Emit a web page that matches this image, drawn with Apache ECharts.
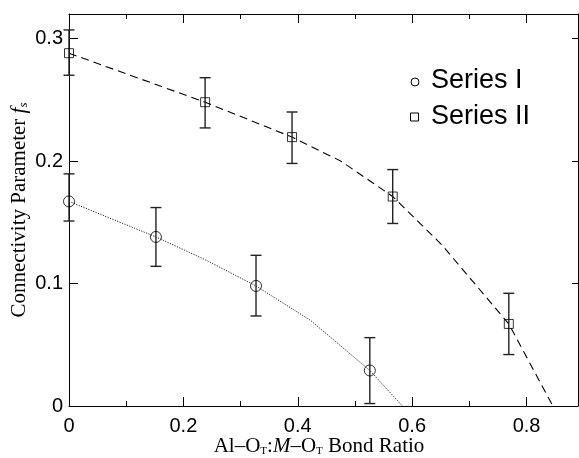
<!DOCTYPE html>
<html>
<head>
<meta charset="utf-8">
<script src="https://cdn.jsdelivr.net/npm/echarts@6/dist/echarts.min.js"></script>
<style>
html,body{margin:0;padding:0;background:#fff;}
#chart{width:579px;height:458px;}
</style>
</head>
<body>
<div id="chart"></div>
<script>
// Series I (circles)
const xI = [0, 0.152, 0.327, 0.526];
const yI = [0.167, 0.138, 0.098, 0.029];
const loI = [0.151, 0.114, 0.0735, 0.002];
const hiI = [0.1895, 0.162, 0.123, 0.0558];
// Series II (squares)
const xII = [0, 0.238, 0.390, 0.566, 0.769];
const yII = [0.288, 0.248, 0.2195, 0.171, 0.067];
const loII = [0.270, 0.227, 0.198, 0.149, 0.042];
const hiII = [0.307, 0.268, 0.240, 0.193, 0.092];
// Fitted curves
const fitIx = [0, 0.152, 0.24, 0.327, 0.422, 0.526, 0.583];
const fitIy = [0.167, 0.138, 0.119, 0.098, 0.070, 0.029, 0];
const fitIIx = [0, 0.238, 0.390, 0.475, 0.566, 0.652, 0.769, 0.846];
const fitIIy = [0.288, 0.248, 0.2195, 0.200, 0.171, 0.1315, 0.067, 0];
// Axis ticks
const xTicks = [0, 0.2, 0.4, 0.6, 0.8];
const yTicks = [0, 0.1, 0.2, 0.3];
const seriesNames = ['Series I', 'Series II'];

const chart = echarts.init(document.getElementById('chart'), null, {renderer: 'canvas'});
const zip = (a, b) => a.map((v, i) => [v, b[i]]);
const errData = (x, lo, hi) => x.map((v, i) => [v, lo[i], hi[i]]);

function errRender(params, api) {
  const x = api.value(0), lo = api.value(1), hi = api.value(2);
  const a = api.coord([x, lo]), b = api.coord([x, hi]);
  const hw = 5.5;
  const st = {stroke: '#222', lineWidth: 1.4};
  return {
    type: 'group',
    children: [
      {type: 'line', shape: {x1: a[0], y1: a[1], x2: b[0], y2: b[1]}, style: st},
      {type: 'line', shape: {x1: a[0] - hw, y1: a[1], x2: a[0] + hw, y2: a[1]}, style: st},
      {type: 'line', shape: {x1: b[0] - hw, y1: b[1], x2: b[0] + hw, y2: b[1]}, style: st}
    ]
  };
}

const labelFont = {fontFamily: 'Liberation Sans', fontSize: 20, color: '#000'};
const axisLine = {show: true, onZero: false, lineStyle: {color: '#000', width: 1}};
const fmt = v => {
  if (Math.abs(v) < 1e-9) return '0';
  return String(Math.round(v * 10) / 10);
};

const option = {
  animation: false,
  backgroundColor: '#fff',
  grid: {left: 69, right: 1, top: 14, bottom: 52, containLabel: false},
  xAxis: [
    {
      type: 'value', position: 'bottom', min: 0, max: 0.89, interval: 0.2,
      axisLine: axisLine,
      axisTick: {show: true, inside: true, length: 9, lineStyle: {color: '#000'}},
      minorTick: {show: true, splitNumber: 2, length: 5, lineStyle: {color: '#000'}},
      axisLabel: Object.assign({margin: 10, showMaxLabel: false,
        formatter: v => xTicks.some(t => Math.abs(t - v) < 1e-6) ? fmt(v) : ''}, labelFont),
      splitLine: {show: false}
    },
    {
      type: 'value', position: 'top', min: 0, max: 0.89, interval: 0.2,
      axisLine: axisLine,
      axisTick: {show: true, inside: true, length: 9, lineStyle: {color: '#000'}},
      minorTick: {show: true, splitNumber: 2, length: 5, lineStyle: {color: '#000'}},
      axisLabel: {show: false},
      splitLine: {show: false}
    }
  ],
  yAxis: [
    {
      type: 'value', position: 'left', min: 0, max: 0.32, interval: 0.1,
      axisLine: axisLine,
      axisTick: {show: true, inside: true, length: 9, lineStyle: {color: '#000'}},
      axisLabel: Object.assign({margin: 6, showMaxLabel: false,
        formatter: v => yTicks.some(t => Math.abs(t - v) < 1e-6) ? fmt(v) : ''}, labelFont),
      splitLine: {show: false}
    },
    {
      type: 'value', position: 'right', min: 0, max: 0.32, interval: 0.1,
      axisLine: axisLine,
      axisTick: {show: true, inside: true, length: 6, lineStyle: {color: '#000'}},
      axisLabel: {show: false},
      splitLine: {show: false}
    }
  ],
  series: [
    {
      name: 'fitI', type: 'line', data: zip(fitIx, fitIy), showSymbol: false, symbol: 'none',
      lineStyle: {color: '#222', width: 1, type: [1.2, 1.4]}, silent: true, z: 2
    },
    {
      name: 'fitII', type: 'line', data: zip(fitIIx, fitIIy), showSymbol: false, symbol: 'none',
      lineStyle: {color: '#000', width: 1.1, type: [8, 5]}, silent: true, z: 2
    },
    {
      name: 'errI', type: 'custom', data: errData(xI, loI, hiI), renderItem: errRender,
      encode: {x: 0, y: [1, 2]}, z: 3
    },
    {
      name: 'errII', type: 'custom', data: errData(xII, loII, hiII), renderItem: errRender,
      encode: {x: 0, y: [1, 2]}, z: 3
    },
    {
      name: seriesNames[0], type: 'scatter', data: zip(xI, yI), symbol: 'circle', symbolSize: 11,
      itemStyle: {color: 'rgba(255,255,255,0)', borderColor: '#000', borderWidth: 1}, z: 4
    },
    {
      name: seriesNames[1], type: 'scatter', data: zip(xII, yII), symbol: 'rect', symbolSize: 9,
      itemStyle: {color: 'rgba(255,255,255,0)', borderColor: '#000', borderWidth: 1}, z: 4
    }
  ],
  graphic: [
    {type: 'circle', shape: {cx: 415, cy: 82, r: 4}, style: {fill: '#fff', stroke: '#000', lineWidth: 1}},
    {type: 'rect', shape: {x: 410.5, y: 113, width: 8, height: 8}, style: {fill: '#fff', stroke: '#000', lineWidth: 1}},
    {type: 'text', x: 431, y: 81, style: {text: seriesNames[0], fontFamily: 'Liberation Sans', fontSize: 27, fill: '#000', verticalAlign: 'middle', align: 'left'}},
    {type: 'text', x: 431, y: 117, style: {text: seriesNames[1], fontFamily: 'Liberation Sans', fontSize: 27, fill: '#000', verticalAlign: 'middle', align: 'left'}},
    {
      type: 'text', x: 319, y: 446,
      style: {
        text: 'Al–O{sub|T}:{it|M}–O{sub|T} Bond Ratio',
        fontFamily: 'Liberation Serif', fontSize: 21, fill: '#000', align: 'center', verticalAlign: 'middle',
        rich: {
          sub: {fontFamily: 'Liberation Serif', fontSize: 11, verticalAlign: 'bottom', padding: [10, 0, 0, 0]},
          it: {fontFamily: 'Liberation Serif', fontStyle: 'italic', fontSize: 21}
        }
      }
    },
    {
      type: 'text', x: 19, y: 210, rotation: Math.PI / 2,
      style: {
        text: 'Connectivity Parameter {it|f}{sub|s}',
        fontFamily: 'Liberation Serif', fontSize: 21, fill: '#000', align: 'center', verticalAlign: 'middle',
        rich: {
          it: {fontFamily: 'Liberation Serif', fontStyle: 'italic', fontSize: 21},
          sub: {fontFamily: 'Liberation Serif', fontStyle: 'italic', fontSize: 13, padding: [9, 0, 0, 0]}
        }
      }
    }
  ]
};
chart.setOption(option);
</script>
</body>
</html>
